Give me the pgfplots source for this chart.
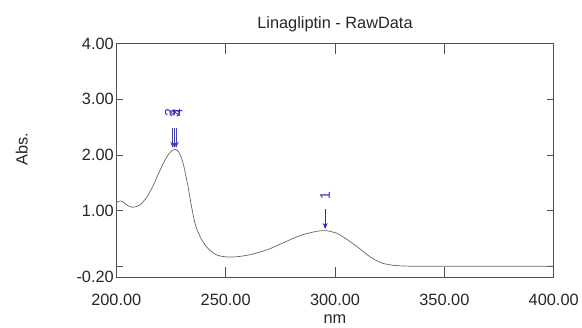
\documentclass[border=0pt]{standalone}
\usepackage{fontspec}
\setmainfont{Liberation Sans}
\usepackage{pgfplots}
\pgfplotsset{compat=1.18}
\usetikzlibrary{arrows.meta}
\definecolor{axisgray}{HTML}{505050}
\definecolor{curvegray}{HTML}{64665E}
\definecolor{peakblue}{HTML}{2A2ABF}
\begin{document}
\begin{tikzpicture}
\begin{axis}[
  scale only axis, width=440bp, height=235bp,
  xmin=200, xmax=400, ymin=-0.2, ymax=4,
  axis line style={axisgray, line width=0.8pt},
  xtick={200,250,300,350,400},
  xticklabels={200.00,250.00,300.00,350.00,400.00},
  ytick={-0.2,0,1,2,3,4},
  yticklabels={-0.20,,1.00,2.00,3.00,4.00},
  tick style={axisgray, line width=0.8pt},
  tick align=inside,
  major tick length=7bp,
  xtick style={/pgfplots/major tick length=10bp},
  ticklabel style={font=\fontsize{16.5}{18}\selectfont, text=black!85},
  xticklabel style={yshift=-13bp},
  yticklabel style={xshift=1bp},
  title={Linagliptin - RawData},
  title style={font=\fontsize{16.5}{18}\selectfont, text=black!85, at={(axis description cs:0.5,1.058)}, anchor=center},
  xlabel={nm}, ylabel={Abs.},
  xlabel style={font=\fontsize{16.5}{18}\selectfont, text=black!85, at={(axis description cs:0.5,-0.178)}, anchor=center},
  ylabel style={font=\fontsize{16.5}{18}\selectfont, text=black!85, at={(axis description cs:-0.216,0.55)}, anchor=center},
]
\addplot[curvegray, line width=0.7pt, smooth, tension=0.4] coordinates {
(200,1.14) (201,1.165) (202,1.175) (203,1.16) (204.5,1.11) (206,1.075) (207.5,1.06)
(209,1.07) (210.6,1.10) (212,1.15) (213.6,1.22) (215,1.31) (216.6,1.43) (218,1.55)
(219.7,1.70) (221,1.81) (222.7,1.94) (224,2.02) (225.5,2.08) (227,2.10) (228,2.08)
(229,2.02) (230,1.92) (231,1.78) (232,1.59) (233,1.39) (234,1.16) (235,0.95)
(236,0.77) (237,0.65) (238,0.56) (239,0.48) (241,0.36) (243,0.28) (245.5,0.21)
(248,0.18) (251.5,0.165) (255,0.17) (258,0.185) (262,0.215) (266,0.26) (270,0.31)
(274,0.38) (278,0.45) (282,0.52) (286,0.575) (290,0.615) (293,0.635) (295.5,0.64)
(298,0.625) (301,0.59) (304,0.52) (307,0.44) (310,0.355) (313,0.26) (316,0.17)
(319,0.10) (322,0.05) (326,0.02) (330,0.006) (335,0.0) (340,0.0) (400,0.0)
};
\draw[peakblue, line width=0.8pt, -{Stealth[length=6bp,width=5bp]}] (axis cs:295.5,1.02) -- (axis cs:295.5,0.67);
\node[rotate=90, peakblue, font=\fontsize{14}{16}\selectfont] at (axis cs:295.5,1.27) {1};
\draw[peakblue!70!gray, line width=0.7pt, -{Stealth[length=6bp,width=5bp]}] (axis cs:225.8,2.48) -- (axis cs:225.8,2.13);
\draw[peakblue!70!gray, line width=0.7pt, -{Stealth[length=6bp,width=5bp]}] (axis cs:226.6,2.48) -- (axis cs:226.6,2.13);
\draw[peakblue!70!gray, line width=0.7pt, -{Stealth[length=6bp,width=5bp]}] (axis cs:227.4,2.48) -- (axis cs:227.4,2.13);
\node[rotate=90, peakblue, font=\fontsize{14}{16}\selectfont] at (axis cs:224.4,2.76) {2};
\node[rotate=90, peakblue, font=\fontsize{14}{16}\selectfont] at (axis cs:226.6,2.74) {3};
\node[rotate=90, peakblue, font=\fontsize{14}{16}\selectfont] at (axis cs:228.0,2.76) {4};
\end{axis}
\path ([xshift=-117bp,yshift=-50bp]current axis.south west) rectangle ([xshift=25bp,yshift=44bp]current axis.north east);
\end{tikzpicture}
\end{document}
